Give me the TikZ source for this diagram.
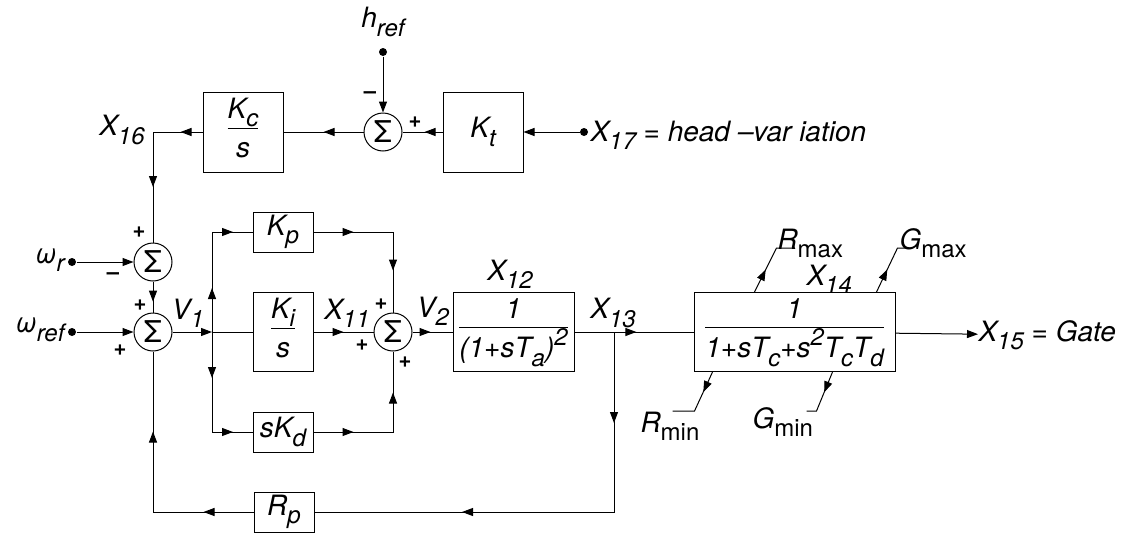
\documentclass[tikz,border=0pt]{standalone}
\usepackage{fontspec}
\setmainfont{TeX Gyre Heros}
\usetikzlibrary{arrows.meta, positioning, decorations.markings}
\tikzstyle{block}=[draw,fill=white,rectangle,inner sep=0pt]
\tikzstyle{sumnode}=[draw,circle,minimum size=38pt,inner sep=0pt,font=\fontsize{30}{30}\selectfont\upshape]
\tikzstyle{sgn}=[inner sep=0pt,font=\fontsize{22}{22}\selectfont\upshape\bfseries]
\tikzstyle{dot}=[circle,fill,inner sep=0pt,minimum size=8pt]
\tikzstyle{every node}=[font=\fontsize{28}{30}\selectfont\itshape]
\tikzset{tipat/.style={postaction={decorate,decoration={markings,mark=at position #1 with {\arrow{>}}}}}}
\newcommand{\subtx}[1]{\raisebox{-0.3em}{\fontsize{24}{24}\selectfont #1}}
\newcommand{\suptx}[1]{\raisebox{0.45em}{\fontsize{24}{24}\selectfont #1}}
\newcommand{\fr}[2]{\begin{tabular}{@{}c@{}}#1\\[0pt]\hline\rule{0pt}{29pt}#2\end{tabular}}
\setlength{\arrayrulewidth}{1pt}

\begin{document}
\begin{tikzpicture}[x=1pt,y=-1pt,>={Triangle[length=11pt,width=8pt]},line width=1pt]
    \useasboundingbox (0,0) rectangle (1121,533);
    % head loop
    \node[sumnode] (s0) at (383,132) {Σ};
    \node[block, minimum width=80pt, minimum height=80pt] (Kt) at (483,132) {K\subtx{t}};
    \node[block, minimum width=80pt, minimum height=80pt] (Kc) at (243,132) {\fr{K\subtx{c}}{s}};
    \node[dot] (d17) at (584,132) {};
    \node[anchor=west, inner sep=0pt] (x17) at (590,135) {X\subtx{17} = head --var iation};
    \node[dot] (dh) at (383,52) {};
    \node (href) at (383,22) {h\subtx{ref}};
    \coordinate (c16) at (153,132);
    \node (x16) at (122,130) {X\subtx{16}};
    % speed inputs
    \node[sumnode] (sr) at (153,262) {Σ};
    \node[sumnode] (sref) at (153,332) {Σ};
    \node[dot] (dr) at (72,262) {};
    \node[dot] (dref) at (72,332) {};
    \node[anchor=east, inner sep=2pt] (wr) at (67,260) {ω\subtx{r}};
    \node[anchor=east, inner sep=2pt] (wref) at (67,330) {ω\subtx{ref}};
    \node[sgn] at (370,95) {--};
    \node[sgn] at (415,122) {+};
    \node[sgn] at (139,232) {+};
    \node[sgn] at (113,276) {--};
    \node[sgn] at (140,305) {+};
    \node[sgn] at (120,350) {+};
    % PID
    \coordinate (b1) at (212,332);
    \node[block, minimum width=60pt, minimum height=40pt] (Kp) at (283,232) {K\subtx{p}};
    \node[block, minimum width=60pt, minimum height=79pt] (Ki) at (283,332) {\fr{K\subtx{i}}{s}};
    \node[block, minimum width=60pt, minimum height=40pt] (Kd) at (283,432) {sK\subtx{d}};
    \node[sumnode] (s1) at (393,332) {Σ};
    \node (v1) at (188,313) {V\subtx{1}};
    \node (x11) at (347,313) {X\subtx{11}};
    \node (v2) at (433,311) {V\subtx{2}};
    \node[sgn] at (381,304) {+};
    \node[sgn] at (362,345) {+};
    \node[sgn] at (405,362) {+};
    % servo and gate
    \node[block, minimum width=121pt, minimum height=79pt] (G12) at (513.5,332) {\fr{1}{(1+sT\subtx{a})\suptx{2}}};
    \node (x12) at (510,274) {X\subtx{12}};
    \coordinate (b2) at (614,332);
    \node (x13) at (613,313) {X\subtx{13}};
    \node[block, minimum width=201pt, minimum height=79pt] (G14) at (794.5,332) {\fr{1}{1+sT\subtx{c}+s\suptx{2}T\subtx{c}T\subtx{d}}};
    \node[anchor=base west, inner sep=0pt] (x14) at (806,285) {X\subtx{14}};
    \node[anchor=west, inner sep=0pt] (x15) at (978,335) {X\subtx{15} = Gate};
    \node[block, minimum width=60pt, minimum height=40pt] (Rp) at (284,512) {R\subtx{p}};
    % rate and position limits
    \coordinate (rmaxa) at ([xshift=61pt]G14.north west);
    \coordinate (gmaxa) at ([xshift=183pt]G14.north west);
    \coordinate (rmina) at ([xshift=19pt]G14.south west);
    \coordinate (gmina) at ([xshift=139pt]G14.south west);
    \node[anchor=base west, inner sep=0pt] (rmax) at (777,249) {R\subtx{\upshape max}};
    \node[anchor=base west, inner sep=0pt] (gmax) at (899,249) {G\subtx{\upshape max}};
    \node[anchor=base west, inner sep=0pt] (rmin) at (640,432) {R\subtx{\upshape min}};
    \node[anchor=base west, inner sep=0pt] (gmin) at (752,428) {G\subtx{\upshape min}};

    \draw[->] (dh) -- (s0);
    \draw[->] (d17) -- (Kt);
    \draw[tipat=18pt] (Kt) -- (s0);
    \draw[tipat=0.5] (s0) -- (Kc);
    \draw[tipat=22pt] (Kc) -- (c16);
    \draw[tipat=55pt] (c16) -- (sr);
    \draw[->] (dr) -- (sr);
    \draw[tipat=0.65] (sr) -- (sref);
    \draw[->] (dref) -- (sref);
    \draw[->] (sref) -- (b1);
    \draw (b1) -- (Ki);
    \draw[tipat=44pt, tipat=121pt] (b1) |- (Kp);
    \draw[tipat=46pt, tipat=121pt] (b1) |- (Kd);
    \draw[tipat=0.5] (Ki) -- (s1);
    \draw[tipat=40pt, tipat=118pt] (Kp) -| (s1);
    \draw[tipat=40pt, tipat=119pt] (Kd) -| (s1);
    \draw[tipat=0.45] (s1) -- (G12);
    \draw[tipat=0.52] (G12) -- (G14);
    \draw[->] (G14) -- (x15);
    \draw[tipat=91pt, tipat=332pt] (b2) |- (Rp);
    \draw[tipat=50pt, tipat=181pt] (Rp) -| (sref);
    \draw[tipat=25pt] (rmaxa) -- ++(22,-44) -- ++(18,0);
    \draw[tipat=25pt] (gmaxa) -- ++(21,-44) -- ++(12,0);
    \draw[tipat=22pt] (rmina) -- ++(-18,39) -- ++(-22,0);
    \draw[tipat=22pt] (gmina) -- ++(-16,39) -- ++(-10,0);
\end{tikzpicture}
\end{document}
